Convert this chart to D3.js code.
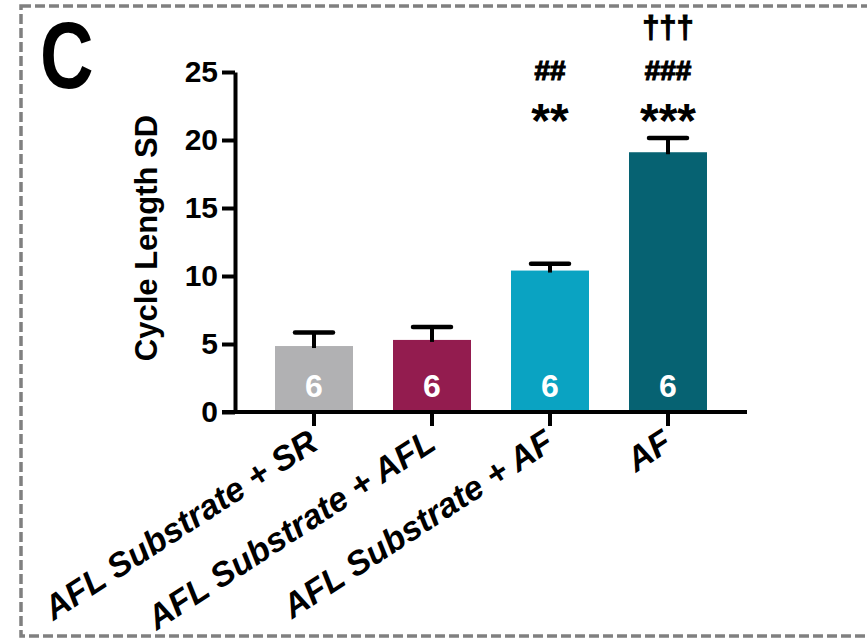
<!DOCTYPE html>
<html>
<head>
<meta charset="utf-8">
<script src="https://cdn.jsdelivr.net/npm/d3@7"></script>
<style>
  html, body { margin: 0; padding: 0; background: #fff; }
  svg { display: block; }
</style>
</head>
<body>
<svg id="chart" width="867" height="640"></svg>
<script>
// ---- data ----
const categories = ["AFL Substrate + SR", "AFL Substrate + AFL", "AFL Substrate + AF", "AF"];
const means = [4.85, 5.3, 10.4, 19.1];
const sems = [1.0, 0.95, 0.5, 1.05];
const nLabels = ["6", "6", "6", "6"];
const starLabels = ["", "", "**", "***"];
const hashLabels = ["", "", "##", "###"];
const daggerLabels = ["", "", "", "†††"];
const colors = ["#b1b1b3", "#931c4f", "#0aa3c2", "#066272"];
const yTicks = [0, 5, 10, 15, 20, 25];
const yTitle = "Cycle Length SD";
const panelLetter = "C";

// ---- layout ----
const svg = d3.select("#chart");
const font = "'Liberation Sans', Arial, sans-serif";

// dashed frame
svg.append("rect")
  .attr("x", 21).attr("y", 6).attr("width", 870).attr("height", 630)
  .attr("fill", "none").attr("stroke", "#808080").attr("stroke-width", 3.5)
  .attr("stroke-dasharray", "10,4");

// panel letter
svg.append("text")
  .attr("transform", "translate(40,88) scale(0.78,1)")
  .attr("font-family", font).attr("font-weight", "bold").attr("font-size", 95)
  .attr("fill", "#000").text(panelLetter);

const x = d3.scaleBand().domain(categories).range([235, 747])
  .paddingInner(0.339).paddingOuter(0.339);
const y = d3.scaleLinear().domain([0, 25]).range([412, 72]);

// bars
svg.append("g").selectAll("rect").data(categories).join("rect")
  .attr("x", d => x(d)).attr("width", x.bandwidth())
  .attr("y", (d, i) => y(means[i])).attr("height", (d, i) => y(0) - y(means[i]))
  .attr("fill", (d, i) => colors[i]);

// error bars (upper only)
const eb = svg.append("g").attr("stroke", "#000").attr("stroke-linecap", "round");
eb.selectAll("line.v").data(categories).join("line").attr("class", "v")
  .attr("x1", d => x(d) + x.bandwidth() / 2).attr("x2", d => x(d) + x.bandwidth() / 2)
  .attr("y1", (d, i) => y(means[i]) + 2).attr("y2", (d, i) => y(means[i] + sems[i]))
  .attr("stroke-width", 4).attr("stroke-linecap", "butt");
eb.selectAll("line.c").data(categories).join("line").attr("class", "c")
  .attr("x1", d => x(d) + x.bandwidth() / 2 - 19).attr("x2", d => x(d) + x.bandwidth() / 2 + 19)
  .attr("y1", (d, i) => y(means[i] + sems[i])).attr("y2", (d, i) => y(means[i] + sems[i]))
  .attr("stroke-width", 4.5);

// n labels
svg.append("g").selectAll("text").data(categories).join("text")
  .attr("x", d => x(d) + x.bandwidth() / 2).attr("y", 397)
  .attr("text-anchor", "middle").attr("font-family", font).attr("font-weight", "bold")
  .attr("font-size", 32).attr("fill", "#fff").text((d, i) => nLabels[i]);

// significance annotations
const ann = svg.append("g").attr("font-family", font).attr("font-weight", "bold")
  .attr("text-anchor", "middle").attr("fill", "#000");
ann.selectAll("text.star").data(categories).join("text").attr("class", "star")
  .attr("x", d => x(d) + x.bandwidth() / 2).attr("y", 137)
  .attr("font-size", 48).text((d, i) => starLabels[i]);
ann.selectAll("text.hash").data(categories).join("text").attr("class", "hash")
  .attr("x", d => x(d) + x.bandwidth() / 2).attr("y", 80)
  .attr("font-size", 28).attr("stroke", "#000").attr("stroke-width", 1.2)
  .text((d, i) => hashLabels[i]);
ann.selectAll("text.dag").data(categories).join("text").attr("class", "dag")
  .attr("x", d => x(d) + x.bandwidth() / 2).attr("y", 38)
  .attr("font-size", 31).attr("stroke", "#000").attr("stroke-width", 1)
  .text((d, i) => daggerLabels[i]);

// y axis
const yAxis = svg.append("g").attr("transform", "translate(235,0)")
  .call(d3.axisLeft(y).tickValues(yTicks).tickSize(13).tickPadding(4).tickSizeOuter(0));
yAxis.select(".domain").attr("stroke", "#000").attr("stroke-width", 4);
yAxis.selectAll(".tick line").attr("stroke", "#000").attr("stroke-width", 4);
yAxis.selectAll(".tick text").attr("font-family", font).attr("font-weight", "bold")
  .attr("font-size", 30).attr("fill", "#000");

// x axis
const xAxis = svg.append("g").attr("transform", "translate(0,412)")
  .call(d3.axisBottom(x).tickSize(14).tickSizeOuter(0));
xAxis.select(".domain").attr("stroke", "#000").attr("stroke-width", 4)
  .attr("d", "M222,0H747");
xAxis.selectAll(".tick line").attr("stroke", "#000").attr("stroke-width", 4);
xAxis.selectAll(".tick text")
  .attr("font-family", font).attr("font-weight", "bold").attr("font-style", "italic")
  .attr("font-size", 34).attr("fill", "#000")
  .attr("text-anchor", "end").attr("y", 0).attr("dy", 0)
  .attr("transform", "translate(6,36) rotate(-33)");

// y title
svg.append("text")
  .attr("transform", "translate(157,238) rotate(-90)")
  .attr("text-anchor", "middle").attr("font-family", font).attr("font-weight", "bold")
  .attr("font-size", 31).attr("fill", "#000").text(yTitle);
</script>
</body>
</html>
